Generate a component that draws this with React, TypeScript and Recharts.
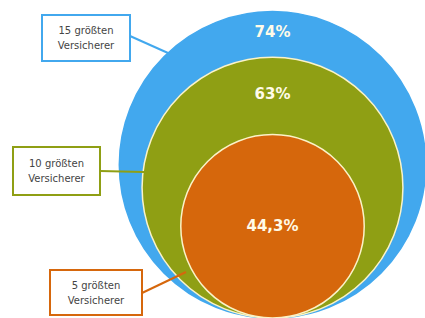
import { ScatterChart, Scatter, XAxis, YAxis } from 'recharts';

const groups = ['15 größten Versicherer', '10 größten Versicherer', '5 größten Versicherer'];
const shares = [74, 63, 44.3];
const shareLabels = ['74%', '63%', '44,3%'];

const W = 425;
const H = 318;
const fills = ['#42a8ee', '#8f9f14', '#d6670c'];
const strokes = ['#42a8ee', '#fbf3c8', '#fbf3c8'];

// callout boxes and connector lines (layout only)
const callouts = [
  { x: 42, y: 15, w: 88, h: 46, x1: 130, y1: 36, x2: 168, y2: 53 },
  { x: 13, y: 147, w: 87, h: 48, x1: 100, y1: 171, x2: 144, y2: 172 },
  { x: 50, y: 270, w: 92, h: 45, x1: 142, y1: 293, x2: 186, y2: 272 },
];

const data = groups.map((g, i) => ({ x: 0, y: shares[i], idx: i, name: g }));

const Circle = (props: any) => {
  const { cx, cy, payload } = props;
  const r = H - cy;
  const i = payload.idx;
  return <circle cx={cx} cy={cy} r={r} fill={fills[i]} stroke={strokes[i]} strokeWidth={1.5} />;
};

const Overlay = (props: any) => {
  const { cx, cy, payload } = props;
  const i = payload.idx;
  const r = H - cy;
  const k = r / shares[i];
  const top = cy - r;
  let ly = cy;
  if (i < shares.length - 1) {
    const nextTop = H - 2 * shares[i + 1] * k;
    ly = (top + nextTop) / 2 - 2;
  }
  const c = callouts[i];
  const words = payload.name.split(' ');
  const line1 = words.slice(0, 2).join(' ');
  const line2 = words.slice(2).join(' ');
  return (
    <g>
      <text x={cx} y={ly} textAnchor="middle" dominantBaseline="central" fill="#fffbe8"
        fontFamily="DejaVu Sans" fontWeight="bold" fontSize={15}>{shareLabels[i]}</text>
      <line x1={c.x1} y1={c.y1} x2={c.x2} y2={c.y2} stroke={fills[i]} strokeWidth={2} />
      <rect x={c.x} y={c.y} width={c.w} height={c.h} fill="#fff" stroke={fills[i]} strokeWidth={2} />
      <text x={c.x + c.w / 2} y={c.y + c.h / 2 - 7.5} textAnchor="middle" dominantBaseline="central"
        fill="#444" fontFamily="DejaVu Sans" fontSize={10}>{line1}</text>
      <text x={c.x + c.w / 2} y={c.y + c.h / 2 + 7.5} textAnchor="middle" dominantBaseline="central"
        fill="#444" fontFamily="DejaVu Sans" fontSize={10}>{line2}</text>
    </g>
  );
};

export default function App() {
  const k = H / 153.6;
  return (
    <div style={{ position: 'absolute', left: 0, top: 0, width: W, height: H, background: '#fff' }}>
      <ScatterChart width={W} height={H} margin={{ top: 0, right: 0, bottom: 0, left: 0 }}>
        <XAxis type="number" dataKey="x" hide domain={[-272.5 / k, 152.5 / k]} />
        <YAxis type="number" dataKey="y" hide domain={[0, 153.6]} />
        <Scatter data={data} shape={Circle} isAnimationActive={false} />
        <Scatter data={data} shape={Overlay} isAnimationActive={false} />
      </ScatterChart>
    </div>
  );
}
